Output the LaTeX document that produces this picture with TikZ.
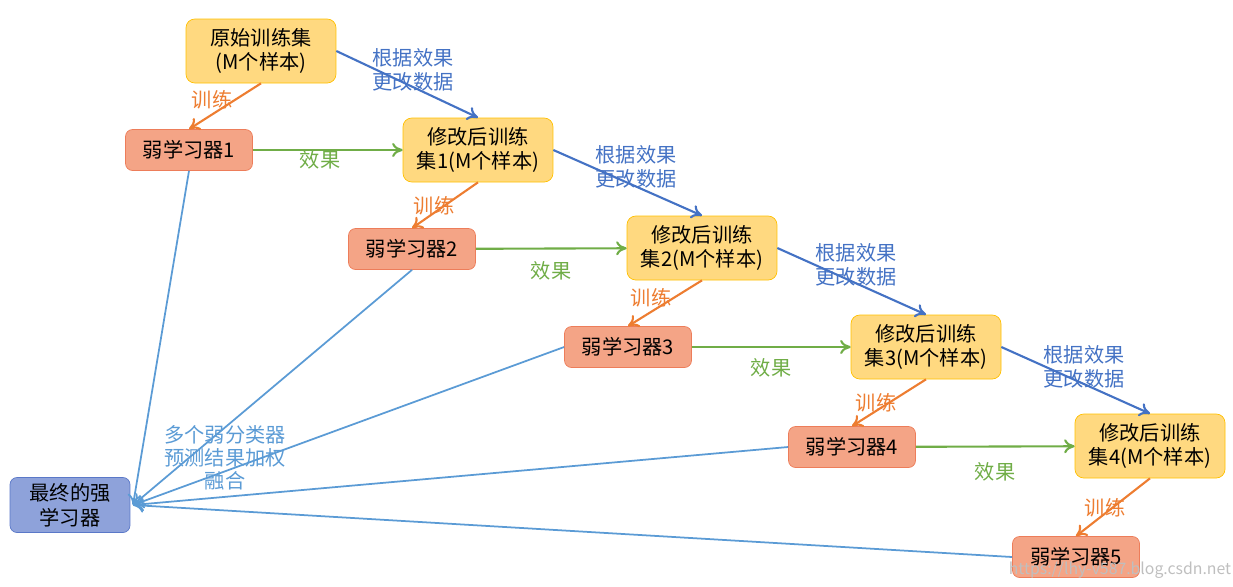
\documentclass[tikz,border=0pt]{standalone}
\usepackage{fontspec}
\setmainfont{Noto Sans CJK SC}
\usetikzlibrary{arrows.meta}
\definecolor{setfill}{RGB}{255,217,128}
\definecolor{setdraw}{RGB}{255,192,0}
\definecolor{weakfill}{RGB}{244,164,134}
\definecolor{weakdraw}{RGB}{237,125,90}
\definecolor{finalfill}{RGB}{142,162,218}
\definecolor{finaldraw}{RGB}{90,120,200}
\definecolor{trainc}{RGB}{237,125,49}
\definecolor{effc}{RGB}{112,173,71}
\definecolor{updc}{RGB}{68,114,196}
\definecolor{fusec}{RGB}{91,155,213}

\tikzset{
  setbox/.style={draw=setdraw, fill=setfill, rounded corners=5pt, minimum width=3.0cm, minimum height=1.28cm, align=center, font=\fontsize{11.5}{14}\selectfont},
  weakbox/.style={draw=weakdraw, fill=weakfill, rounded corners=4pt, minimum width=2.54cm, minimum height=0.82cm, font=\fontsize{11.5}{14}\selectfont},
  finalbox/.style={draw=finaldraw, fill=finalfill, rounded corners=4pt, minimum width=2.4cm, minimum height=1.04cm, align=center, font=\fontsize{11.5}{14}\selectfont},
  trainarr/.style={-{To[length=6pt,width=8pt]}, trainc, line width=1.2pt},
  effarr/.style={-{To[length=6pt,width=8pt]}, effc, line width=1.2pt},
  updarr/.style={-{To[length=6pt,width=8pt]}, updc, line width=1.2pt},
  fusearr/.style={-{To[length=6pt,width=8pt]}, fusec, line width=1pt},
  lbl/.style={font=\fontsize{11.5}{14}\selectfont, align=center}
}

\begin{document}
\begin{tikzpicture}[x=0.02cm, y=-0.02cm]
    \useasboundingbox (0,0) rectangle (1233,586);
    % Training sets
    \node[setbox] (s0) at (261,51) {原始训练集\\(M个样本)};
    \node[setbox] (s1) at (478,150) {修改后训练\\集1(M个样本)};
    \node[setbox] (s2) at (702,248) {修改后训练\\集2(M个样本)};
    \node[setbox] (s3) at (926,347) {修改后训练\\集3(M个样本)};
    \node[setbox] (s4) at (1150,446) {修改后训练\\集4(M个样本)};

    % Weak learners
    \node[weakbox] (w1) at (189,150) {弱学习器1};
    \node[weakbox] (w2) at (412,249) {弱学习器2};
    \node[weakbox] (w3) at (628,347) {弱学习器3};
    \node[weakbox] (w4) at (852,447) {弱学习器4};
    \node[weakbox] (w5) at (1076,557) {弱学习器5};

    % Final learner
    \node[finalbox] (fin) at (70,505) {最终的强\\学习器};
    \coordinate (finin) at (133,505);

    % Train arrows
    \draw[trainarr] (s0.south) -- (w1.north);
    \draw[trainarr] (s1.south) -- (w2.north);
    \draw[trainarr] (s2.south) -- (w3.north);
    \draw[trainarr] (s3.south) -- (w4.north);
    \draw[trainarr] (s4.south) -- (w5.north);

    % Effect arrows
    \draw[effarr] (w1) -- (s1);
    \draw[effarr] (w2) -- (s2);
    \draw[effarr] (w3) -- (s3);
    \draw[effarr] (w4) -- (s4);

    % Update arrows
    \draw[updarr] (s0.east) -- (s1.north);
    \draw[updarr] (s1.east) -- (s2.north);
    \draw[updarr] (s2.east) -- (s3.north);
    \draw[updarr] (s3.east) -- (s4.north);

    % Fusion arrows
    \draw[fusearr] (w1.south) -- (finin);
    \draw[fusearr] (w2.south) -- (finin);
    \draw[fusearr] (w3.west) -- (finin);
    \draw[fusearr] (w4.west) -- (finin);
    \draw[fusearr] (w5.west) -- (finin);

    % Labels
    \node[lbl, text=trainc] (t0) at (212,100) {训练};
    \node[lbl, text=trainc] (t1) at (434,206) {训练};
    \node[lbl, text=trainc] (t2) at (651,298) {训练};
    \node[lbl, text=trainc] (t3) at (876,403) {训练};
    \node[lbl, text=trainc] (t4) at (1105,508) {训练};
    \node[lbl, text=effc] (e1) at (320,160) {效果};
    \node[lbl, text=effc] (e2) at (551,271) {效果};
    \node[lbl, text=effc] (e3) at (771,368) {效果};
    \node[lbl, text=effc] (e4) at (995,472) {效果};
    \node[lbl, text=updc] (u1) at (413,70) {根据效果\\更改数据};
    \node[lbl, text=updc] (u2) at (636,167) {根据效果\\更改数据};
    \node[lbl, text=updc] (u3) at (856,265) {根据效果\\更改数据};
    \node[lbl, text=updc] (u4) at (1084,367) {根据效果\\更改数据};
    \node[lbl, text=fusec, font=\fontsize{11.5}{13}\selectfont] (fu) at (225,458) {多个弱分类器\\预测结果加权\\融合};
    \node[text=black!25, font=\fontsize{9}{10}\selectfont] (wm) at (1120,570) {https://lhy-v587.blog.csdn.net};
\end{tikzpicture}
\end{document}
